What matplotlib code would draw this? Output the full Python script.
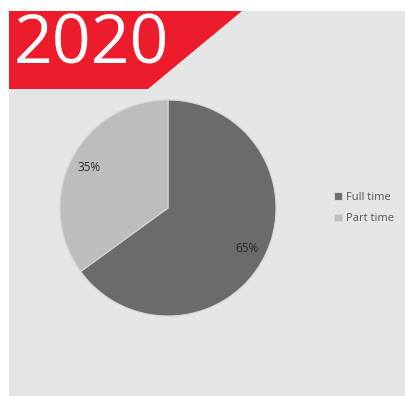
import matplotlib
matplotlib.use('Agg')
import matplotlib.pyplot as plt
from matplotlib.patches import Polygon, Rectangle

plt.rcParams['font.family'] = ['Open Sans', 'DejaVu Sans']

# Employment split
year_label = '2020'
categories = ['Full time', 'Part time']
shares = [65, 35]
colors = ['#6b6b6b', '#bdbdbd']

W, H = 406, 396
fig = plt.figure(figsize=(W / 100, H / 100), dpi=100)
fig.patch.set_facecolor('white')

# full-figure overlay in pixel units for the panel and banner
bg = fig.add_axes([0, 0, 1, 1])
bg.set_xlim(0, W)
bg.set_ylim(H, 0)
bg.axis('off')
bg.add_patch(Rectangle((9, 11), W - 9, H - 11, facecolor='#e4e5e7', edgecolor='none'))
bg.add_patch(Polygon([(9, 11), (242, 11), (148, 89), (9, 89)], closed=True,
                     facecolor='#ec1c2c', edgecolor='none'))
bg.text(14, 63, year_label, color='white', fontsize=49, va='baseline', ha='left')

# pie centred at (168, 208) px with radius 108 px
cx, cy, r = 168, 208, 108
ax = fig.add_axes([(cx - r) / W, (H - cy - r) / H, 2 * r / W, 2 * r / H])
wedges, texts, autotexts = ax.pie(
    shares, colors=colors, startangle=90, counterclock=False,
    autopct='%d%%', pctdistance=0.82,
    wedgeprops=dict(edgecolor='#d6d6d6', linewidth=0.8),
    textprops=dict(fontsize=8.5, color='#2a2a2a'))
ax.set_xlim(-1.0, 1.0)
ax.set_ylim(-1.0, 1.0)

fig.legend(wedges, categories, loc='center left',
           bbox_to_anchor=(324 / W, 1 - 208 / H), frameon=False,
           handlelength=0.7, handleheight=0.7, handletextpad=0.4,
           labelspacing=0.95, fontsize=8, labelcolor='#555555')

fig.savefig('out.png', dpi=100)
